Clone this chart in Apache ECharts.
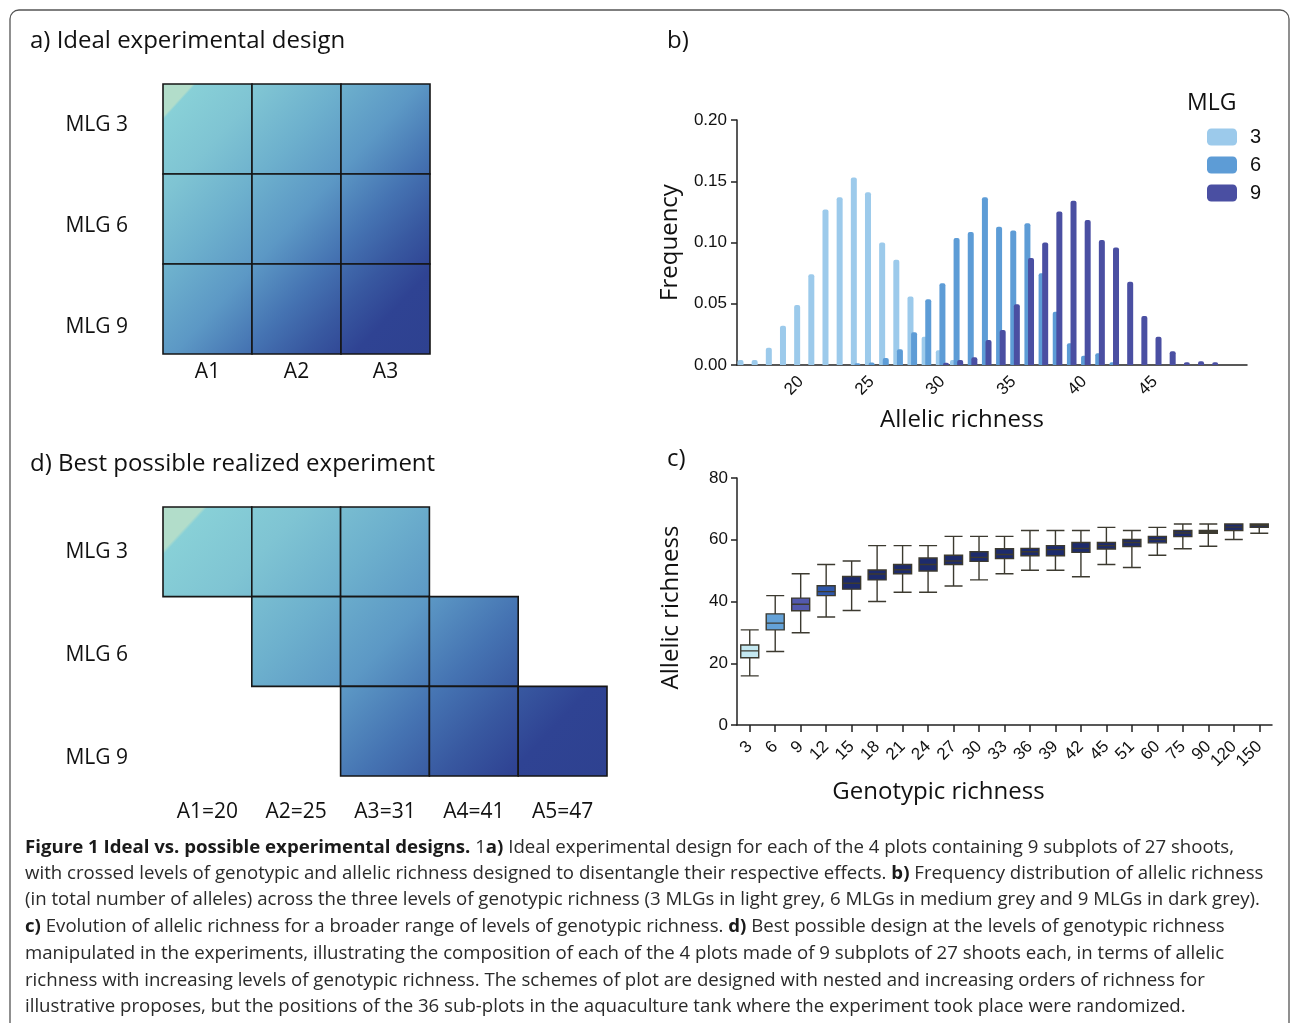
<!DOCTYPE html>
<html><head><meta charset="utf-8">
<script src="https://cdn.jsdelivr.net/npm/echarts@6/dist/echarts.min.js"></script>
<style>html,body{margin:0;padding:0;background:#fff}#c{width:1290px;height:1023px}</style>
</head><body><div id="c"></div>
<script>
// ---------- DATA ----------
const designRows = ['MLG 3', 'MLG 6', 'MLG 9'];
const designACols = ['A1', 'A2', 'A3'];
const designACells = [[0,0],[1,0],[2,0],[0,1],[1,1],[2,1],[0,2],[1,2],[2,2]];
const designDCols = ['A1=20', 'A2=25', 'A3=31', 'A4=41', 'A5=47'];
const designDCells = [[0,0],[1,0],[2,0],[1,1],[2,1],[3,1],[2,2],[3,2],[4,2]];

const histCategories = ['16','17','18','19','20','21','22','23','24','25','26','27','28','29','30','31','32','33',
  '34','35','36','37','38','39','40','41','42','43','44','45','46','47','48','49','50','51'];
const histLabels = ['20','25','30','35','40','45'];
const mlgNames = ['3', '6', '9'];
const mlg3Freq = [0.004,0.004,0.014,0.032,0.049,0.074,0.127,0.137,0.153,0.141,0.100,0.086,0.056,0.023,0.012,0.004,
  null,null,null,null,null,null,null,null,null,null,null,null,null,null,null,null,null,null,null,null];
const mlg6Freq = [null,null,null,null,null,null,null,null,
  0.0014,0.002,0.0057,0.0128,0.0267,0.0536,0.0667,0.1037,0.1086,0.137,0.1129,0.1097,0.1157,0.0748,0.0435,0.0177,0.0076,0.0095,0.0022,
  null,null,null,null,null,null,null,null,null];
const mlg9Freq = [null,null,null,null,null,null,null,null,null,null,null,null,null,null,
  0.0019,0.004,0.0063,0.0204,0.0286,0.0495,0.0873,0.100,0.1254,0.1341,0.1184,0.102,0.096,0.068,0.040,0.0231,0.0112,0.0022,0.003,0.0022,
  null,null];

const genoCategories = ['3','6','9','12','15','18','21','24','27','30','33','36','39','42','45','51','60','75','90','120','150'];
const boxMin = [15.9,23.8,29.9,35.0,37.1,40.0,43.0,43.0,45.0,47.0,49.0,50.1,50.1,48.0,52.0,51.0,55.0,57.1,57.9,60.1,62.1];
const boxQ1  = [21.8,30.8,37.0,41.9,44.0,47.0,49.0,49.9,52.0,53.0,53.9,54.8,54.8,55.9,57.0,57.8,59.0,61.0,62.1,63.0,64.0];
const boxMed = [24.0,33.0,39.1,43.2,45.9,48.9,50.3,52.0,53.1,54.3,55.2,56.1,56.8,57.2,58.1,59.1,60.1,62.2,62.6,64.1,64.6];
const boxQ3  = [25.9,36.0,41.1,45.1,48.1,50.2,52.0,54.1,55.0,56.1,57.1,57.2,58.1,59.1,59.1,60.1,61.1,63.0,63.0,65.1,65.1];
const boxMax = [30.8,41.9,49.0,52.0,53.1,58.1,58.1,58.1,61.1,61.1,61.1,63.0,63.0,63.0,64.0,63.0,64.0,65.1,65.1,65.1,65.1];

const captionLines = [
  [['Figure 1 Ideal vs. possible experimental designs.', true], [' 1', false], ['a)', true], [' Ideal experimental design for each of the 4 plots containing 9 subplots of 27 shoots,', false]],
  [['with crossed levels of genotypic and allelic richness designed to disentangle their respective effects. ', false], ['b)', true], [' Frequency distribution of allelic richness', false]],
  [['(in total number of alleles) across the three levels of genotypic richness (3 MLGs in light grey, 6 MLGs in medium grey and 9 MLGs in dark grey).', false]],
  [['c)', true], [' Evolution of allelic richness for a broader range of levels of genotypic richness. ', false], ['d)', true], [' Best possible design at the levels of genotypic richness', false]],
  [['manipulated in the experiments, illustrating the composition of each of the 4 plots made of 9 subplots of 27 shoots each, in terms of allelic', false]],
  [['richness with increasing levels of genotypic richness. The schemes of plot are designed with nested and increasing orders of richness for', false]],
  [['illustrative proposes, but the positions of the 36 sub-plots in the aquaculture tank where the experiment took place were randomized.', false]]
];

// ---------- STYLE ----------
const SANS = '"Open Sans", "Noto Sans", sans-serif';
const ARIAL = '"Liberation Sans", Arial, sans-serif';
const INK = '#111';
const mlgColors = ['#9ccaeb', '#5d9cd6', '#4a4fa2'];
const boxColors = ['#c4e8f0','#64a2d8','#5359ad','#2e56a8','#1d2b6c','#1d2b6c','#1d2b6c','#1d2b6c','#1d2b6c','#1d2b6c',
  '#1d2b6c','#1d2b6c','#1d2b6c','#1d2b6c','#1d2b6c','#1d2b6c','#1d2b6c','#1d2b6c','#1d2b6c','#1d2b6c','#1d2b6c'];
const cellStops = [
  {offset: 0, color: '#b2ddca'}, {offset: 0.058, color: '#b2ddca'}, {offset: 0.064, color: '#88d0d7'},
  {offset: 0.2, color: '#7fc4d3'}, {offset: 0.35, color: '#6db0cd'}, {offset: 0.5, color: '#5c98c5'},
  {offset: 0.64, color: '#4573b2'}, {offset: 0.75, color: '#3858a0'}, {offset: 0.85, color: '#2f4393'}, {offset: 1, color: '#2e4190'}
];
const axisLineStyle = {color: '#222', width: 1.5};

function makeCellRenderer(fx, fy) {
  return function (params, api) {
    const cs = params.coordSys;
    const c = api.coord([api.value(0), api.value(1)]);
    const s = api.size([1, 1]);
    return {
      type: 'rect',
      shape: {x: c[0] - s[0] / 2, y: c[1] - s[1] / 2, width: s[0], height: s[1]},
      style: {
        fill: {type: 'linear', x: cs.x, y: cs.y, x2: cs.x + cs.width * fx, y2: cs.y + cs.height * fy, global: true, colorStops: cellStops},
        stroke: '#161616', lineWidth: 1.6
      }
    };
  };
}

// caption layout (measure and fit)
const CAP_SIZE = 18;
const capRight = [1244, 1258, 1266, 1225, 1226, 1200, 1178];
const capY = [848, 874, 900, 927, 954, 981, 1007];
const mctx = document.createElement('canvas').getContext('2d');
function segWidth(t, bold) { mctx.font = (bold ? 'bold ' : '') + CAP_SIZE + 'px "Open Sans"'; return mctx.measureText(t).width; }
let ratioSum = 0;
captionLines.forEach((segs, i) => {
  const w = segs.reduce((a, s) => a + segWidth(s[0], s[1]), 0);
  ratioSum += (capRight[i] - 25) / w;
});
const capScale = ratioSum / captionLines.length;
const capGraphics = captionLines.map((segs, i) => ({
  type: 'text', x: 25, y: capY[i], scaleX: capScale, silent: true,
  style: {
    text: segs.map(s => '{' + (s[1] ? 'b' : 'n') + '|' + s[0] + '}').join(''),
    verticalAlign: 'middle', align: 'left',
    rich: {
      b: {fontSize: CAP_SIZE, fontFamily: SANS, fontWeight: 'bold', fill: '#1a1a1a'},
      n: {fontSize: CAP_SIZE, fontFamily: SANS, fontWeight: 'normal', fill: '#2a2a2a'}
    }
  }
}));

const boxData = genoCategories.map((g, i) => ({
  value: [boxMin[i], boxQ1[i], boxMed[i], boxQ3[i], boxMax[i]],
  itemStyle: {color: boxColors[i]}
}));

const titleStyle = {fontSize: 24, fontWeight: 'normal', fontFamily: SANS, color: INK};
const option = {
  animation: false,
  backgroundColor: '#fff',
  title: [
    {text: 'a) Ideal experimental design', left: 30, top: 29, padding: 0, textStyle: titleStyle},
    {text: 'b)', left: 667, top: 29, padding: 0, textStyle: titleStyle},
    {text: 'c)', left: 667, top: 447, padding: 0, textStyle: titleStyle},
    {text: 'd) Best possible realized experiment', left: 30, top: 452, padding: 0, textStyle: titleStyle},
    {text: 'MLG', left: 1187, top: 92, padding: 0, textStyle: {fontSize: 23, fontWeight: 'normal', fontFamily: SANS, color: INK}}
  ],
  legend: {
    data: mlgNames, orient: 'vertical', left: 1207, top: 127, padding: 0, itemWidth: 30, itemHeight: 17, itemGap: 8,
    icon: 'roundRect', selectedMode: false,
    textStyle: {fontSize: 20, fontFamily: ARIAL, color: INK, padding: [0, 0, 0, 8]}
  },
  grid: [
    {left: 163, top: 84, width: 267, height: 270},
    {left: 163, top: 75, width: 267, height: 303},
    {left: 163, top: 507, width: 444, height: 269},
    {left: 163, top: 500, width: 444, height: 310},
    {left: 737, top: 120, width: 510, height: 245},
    {left: 737, top: 478, width: 535, height: 247}
  ],
  xAxis: [
    {gridIndex: 0, type: 'category', data: designACols, axisLine: {show: false}, axisTick: {show: false},
      axisLabel: {fontSize: 21, fontFamily: SANS, color: INK, margin: 8}},
    {gridIndex: 1, type: 'value', show: false},
    {gridIndex: 2, type: 'category', data: designDCols, axisLine: {show: false}, axisTick: {show: false},
      axisLabel: {fontSize: 21, fontFamily: SANS, color: INK, margin: 26}},
    {gridIndex: 3, type: 'value', show: false},
    {gridIndex: 4, type: 'category', data: histCategories, boundaryGap: true,
      axisLine: {show: true, lineStyle: axisLineStyle}, axisTick: {show: false}, splitLine: {show: false},
      axisLabel: {interval: (idx, v) => histLabels.indexOf(String(v)) >= 0, rotate: 45, fontSize: 17, fontFamily: ARIAL, color: INK, margin: 14},
      name: 'Allelic richness', nameLocation: 'middle', nameGap: 43,
      nameTextStyle: {fontSize: 24, fontFamily: SANS, color: INK, padding: [0, 60, 0, 0]}},
    {gridIndex: 5, type: 'category', data: genoCategories, boundaryGap: true,
      axisLine: {show: true, lineStyle: axisLineStyle},
      axisTick: {show: true, alignWithLabel: true, length: 7, lineStyle: axisLineStyle}, splitLine: {show: false},
      axisLabel: {interval: 0, rotate: 45, fontSize: 17, fontFamily: ARIAL, color: INK, margin: 19},
      name: 'Genotypic richness', nameLocation: 'middle', nameGap: 55,
      nameTextStyle: {fontSize: 24, fontFamily: SANS, color: INK, padding: [0, 132, 0, 0]}}
  ],
  yAxis: [
    {gridIndex: 0, type: 'category', data: designRows, inverse: true, axisLine: {show: false}, axisTick: {show: false}, axisLabel: {show: false}},
    {gridIndex: 1, type: 'category', data: designRows, inverse: true, axisLine: {show: false}, axisTick: {show: false},
      axisLabel: {fontSize: 21, fontFamily: SANS, color: INK, margin: 35}},
    {gridIndex: 2, type: 'category', data: designRows, inverse: true, axisLine: {show: false}, axisTick: {show: false}, axisLabel: {show: false}},
    {gridIndex: 3, type: 'category', data: designRows, inverse: true, axisLine: {show: false}, axisTick: {show: false},
      axisLabel: {fontSize: 21, fontFamily: SANS, color: INK, margin: 35}},
    {gridIndex: 4, type: 'value', min: 0, max: 0.2, interval: 0.05,
      axisLine: {show: true, lineStyle: axisLineStyle}, axisTick: {show: true, length: 6, lineStyle: axisLineStyle},
      splitLine: {show: false},
      axisLabel: {formatter: v => v.toFixed(2), fontSize: 17, fontFamily: ARIAL, color: INK, margin: 10},
      name: 'Frequency', nameLocation: 'middle', nameGap: 55,
      nameTextStyle: {fontSize: 24, fontFamily: SANS, color: INK}},
    {gridIndex: 5, type: 'value', min: 0, max: 80, interval: 20,
      axisLine: {show: true, lineStyle: axisLineStyle}, axisTick: {show: true, length: 6, lineStyle: axisLineStyle},
      splitLine: {show: false},
      axisLabel: {fontSize: 17, fontFamily: ARIAL, color: INK, margin: 9},
      name: 'Allelic richness', nameLocation: 'middle', nameGap: 54,
      nameTextStyle: {fontSize: 24, fontFamily: SANS, color: INK, padding: [0, 12, 0, 0]}}
  ],
  series: [
    {type: 'custom', xAxisIndex: 0, yAxisIndex: 0, data: designACells, renderItem: makeCellRenderer(1.05, 0.95), silent: true},
    {type: 'custom', xAxisIndex: 2, yAxisIndex: 2, data: designDCells, renderItem: makeCellRenderer(0.845, 1.30), silent: true},
    {name: mlgNames[0], type: 'bar', xAxisIndex: 4, yAxisIndex: 4, data: mlg3Freq, barWidth: 6, barGap: '-40%',
      itemStyle: {color: mlgColors[0], borderRadius: [2, 2, 0, 0]}},
    {name: mlgNames[1], type: 'bar', xAxisIndex: 4, yAxisIndex: 4, data: mlg6Freq, barWidth: 6, barGap: '-40%',
      itemStyle: {color: mlgColors[1], borderRadius: [2, 2, 0, 0]}},
    {name: mlgNames[2], type: 'bar', xAxisIndex: 4, yAxisIndex: 4, data: mlg9Freq, barWidth: 6, barGap: '-40%',
      itemStyle: {color: mlgColors[2], borderRadius: [2, 2, 0, 0]}},
    {type: 'boxplot', xAxisIndex: 5, yAxisIndex: 5, data: boxData, boxWidth: [18, 18],
      itemStyle: {borderColor: '#3c3a30', borderWidth: 1.4}}
  ],
  graphic: [
    {type: 'rect', silent: true, z: -1, shape: {x: 10, y: 10, width: 1279, height: 1060, r: 9},
      style: {fill: 'none', stroke: '#555', lineWidth: 1.3}}
  ].concat(capGraphics)
};

const chart = echarts.init(document.getElementById('c'));
chart.setOption(option);
</script></body></html>
